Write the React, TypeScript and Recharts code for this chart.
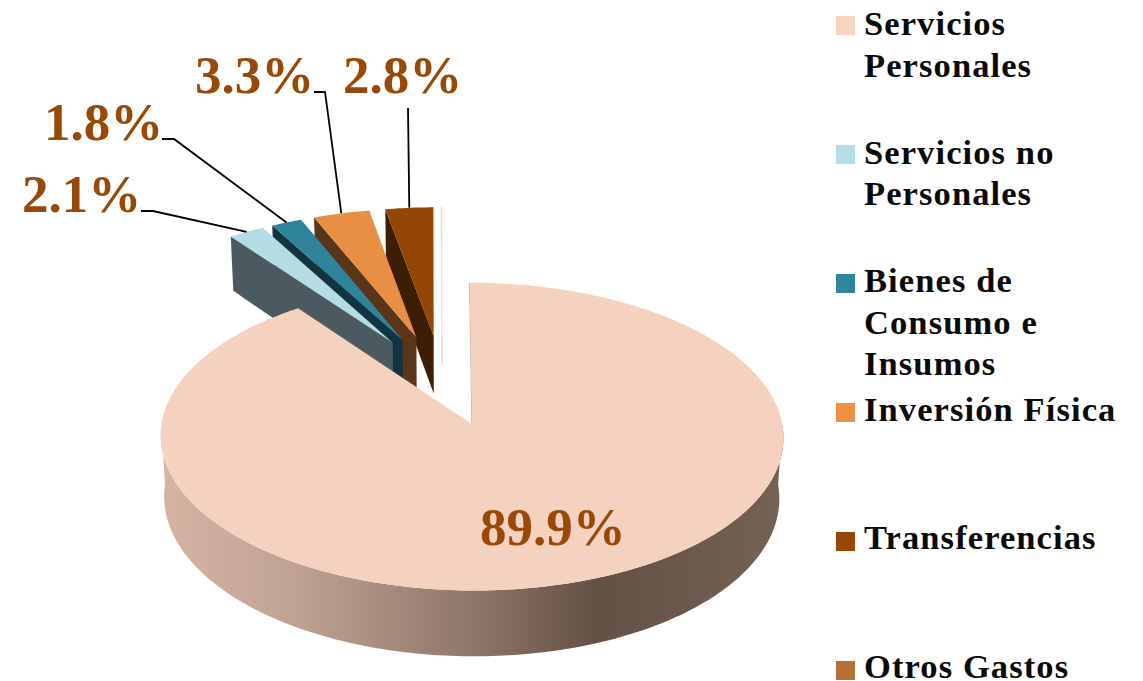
import React from "react";
import { PieChart, Pie, Legend } from "recharts";

// ---- data (legend order) ----
const CATEGORIES = [
  "Servicios Personales",
  "Servicios no Personales",
  "Bienes de Consumo e Insumos",
  "Inversión Física",
  "Transferencias",
  "Otros Gastos",
];
const VALUES = [89.9, 2.1, 1.8, 3.3, 2.8, 0.05];
const LEGEND_LINES = [
  ["Servicios", "Personales"],
  ["Servicios no", "Personales"],
  ["Bienes de", "Consumo e", "Insumos"],
  ["Inversión Física"],
  ["Transferencias"],
  ["Otros Gastos"],
];
const LEGEND_COLORS = ["#F9D3C2", "#B7DDE8", "#31859C", "#EE9143", "#974706", "#B66F33"];
const FACE_COLORS = ["#F5D1BF", "#B5DCE5", "#2F849C", "#E98F45", "#934606", "#F0E0D6"];
const WALL_COLORS = ["#7A6358", "#4B5A60", "#123440", "#5B351A", "#3E1E02", "#F0E0D6"];

// ---- 3D projection settings ----
const CX = 442;
const CY = 380;
const RADIUS = 303;
const Y_RATIO = 0.481;
const PERSPECTIVE = 0.08;
const EXPLODE = 0.31;
const DEPTH = 59;
const DEPTH_SHRINK = 0.988;

// leader-line and text placement of the percentage labels
const LABEL_LAYOUT: Record<string, { x: number; y: number; line: number[][] }> = {
  "Servicios Personales": { x: 480, y: 545, line: [] },
  "Servicios no Personales": { x: 22, y: 212, line: [[141, 211], [153, 211]] },
  "Bienes de Consumo e Insumos": { x: 44, y: 140, line: [[162, 139], [174, 139]] },
  "Inversión Física": { x: 195, y: 93, line: [[314, 92], [325, 92]] },
  Transferencias: { x: 343, y: 93, line: [[408, 108]] },
};

const rad = (d: number) => (d * Math.PI) / 180;

function project(cx: number, cy: number, R: number, u: number, v: number, down = 0) {
  const s = 1 / (1 + PERSPECTIVE * v);
  const k = down > 0 ? DEPTH_SHRINK : 1;
  return {
    x: cx + R * u * s * k,
    y: cy - R * Y_RATIO * v * s + down * s,
  };
}

const toPath = (pts: { x: number; y: number }[]) =>
  "M" + pts.map((p) => `${p.x.toFixed(2)},${p.y.toFixed(2)}`).join("L") + "Z";

function rimPoints(cx: number, cy: number, R: number, ox: number, oy: number, a0: number, a1: number, down = 0) {
  const n = Math.max(2, Math.ceil(Math.abs(a1 - a0)));
  const out = [];
  for (let i = 0; i <= n; i++) {
    const a = rad(a0 + ((a1 - a0) * i) / n);
    out.push(project(cx, cy, R, ox + Math.cos(a), oy + Math.sin(a), down));
  }
  return out;
}

function Slice3D(props: any) {
  const { cx, cy, outerRadius: R, startAngle, endAngle, payload } = props;
  const idx = CATEGORIES.indexOf(payload.name);
  const mid = rad((startAngle + endAngle) / 2);
  const ox = EXPLODE * Math.cos(mid);
  const oy = EXPLODE * Math.sin(mid);
  const apex = project(cx, cy, R, ox, oy);
  const apexLow = project(cx, cy, R, ox, oy, DEPTH);
  const rim = rimPoints(cx, cy, R, ox, oy, startAngle, endAngle);
  const face = toPath([apex, ...rim]);

  if (idx === 0) {
    // large slice: curved front wall with gradient
    const top = rimPoints(cx, cy, R, ox, oy, 180, 360);
    const low = rimPoints(cx, cy, R, ox, oy, 180, 360, DEPTH).reverse();
    const g0 = rimPoints(cx, cy, R, ox, oy, 90, 90)[0];
    return (
      <g>
        <defs>
          <linearGradient id="mainWall" x1="0" y1="0" x2="1" y2="0">
            <stop offset="0" stopColor="#D6B4A4" />
            <stop offset="0.22" stopColor="#BFA293" />
            <stop offset="0.5" stopColor="#8F766A" />
            <stop offset="0.7" stopColor="#645145" />
            <stop offset="1" stopColor="#756256" />
          </linearGradient>
        </defs>
        <path d={toPath([...top, ...low])} fill="url(#mainWall)" />
        <line x1={apex.x} y1={apex.y} x2={g0.x} y2={g0.y} stroke="#9C867A" strokeWidth={1} strokeOpacity={0.7} />
        <path d={face} fill={FACE_COLORS[idx]} />
      </g>
    );
  }

  if (idx === 5) {
    // hair-thin slice
    const tail = project(cx, cy, R, ox, oy, DEPTH / 2);
    return (
      <g>
        <path d={face} fill={FACE_COLORS[idx]} stroke={FACE_COLORS[idx]} strokeWidth={0.9} />
        <line x1={apex.x} y1={apex.y} x2={tail.x} y2={tail.y} stroke={FACE_COLORS[idx]} strokeWidth={1.6} />
      </g>
    );
  }

  // small slices: visible radial wall on the far (counter-clockwise) side
  const edge = rim[rim.length - 1];
  const edgeLow = rimPoints(cx, cy, R, ox, oy, endAngle, endAngle, DEPTH)[0];
  return (
    <g>
      <path d={toPath([apex, edge, edgeLow, apexLow])} fill={WALL_COLORS[idx]} />
      <path d={face} fill={FACE_COLORS[idx]} />
    </g>
  );
}

function SliceLabel(props: any) {
  const { cx, cy, outerRadius: R, midAngle, value, name, payload } = props;
  const key = name ?? payload?.name;
  const layout = LABEL_LAYOUT[key];
  if (!layout) return null;
  const m = rad(midAngle);
  const rimMid = project(cx, cy, R, (1 + EXPLODE) * Math.cos(m), (1 + EXPLODE) * Math.sin(m));
  const pts = layout.line.length ? [...layout.line, [rimMid.x, rimMid.y]] : [];
  return (
    <g>
      {pts.length > 0 && (
        <polyline points={pts.map((p) => p.join(",")).join(" ")} fill="none" stroke="#000" strokeWidth={1.8} />
      )}
      <text
        x={layout.x}
        y={layout.y}
        textAnchor="start"
        fill="#984807"
        fontFamily="'Liberation Serif', serif"
        fontWeight={700}
        fontSize={53}
        letterSpacing={0}
      >
        {`${value.toFixed(1)}%`}
      </text>
    </g>
  );
}

function LegendBlock() {
  const firstCenter = 25;
  const step = 129;
  const textStep = 128.6;
  return (
    <div style={{ position: "absolute", left: 0, top: 0, width: 1143, height: 681, pointerEvents: "none" }}>
      {CATEGORIES.map((c, i) => (
        <React.Fragment key={c}>
          <div
            style={{
              position: "absolute",
              left: 836,
              top: firstCenter + step * i - 9.5,
              width: 19,
              height: 19,
              background: LEGEND_COLORS[i],
            }}
          />
          <div
            style={{
              position: "absolute",
              left: 864,
              top: firstCenter + textStep * i - 22,
              fontFamily: "'Liberation Serif', serif",
              fontWeight: 700,
              fontSize: 34.5,
              lineHeight: "41.5px",
              letterSpacing: 1.1,
              color: "#0a0a0a",
              whiteSpace: "nowrap",
              textAlign: "left",
            }}
          >
            {LEGEND_LINES[i].map((l) => (
              <div key={l}>{l}</div>
            ))}
          </div>
        </React.Fragment>
      ))}
    </div>
  );
}

// draw order: small slices first so the big one sits on top
const pieData = CATEGORIES.map((name, i) => ({ name, value: VALUES[i] })).reverse();

export default function App() {
  return (
    <div style={{ position: "absolute", left: 0, top: 0, width: 1143, height: 681, overflow: "hidden", background: "#fff" }}>
      <PieChart width={1143} height={681} margin={{ top: 0, right: 0, bottom: 0, left: 0 }}>
        <Pie
          data={pieData}
          dataKey="value"
          nameKey="name"
          cx={CX}
          cy={CY}
          innerRadius={0}
          outerRadius={RADIUS}
          startAngle={90}
          endAngle={450}
          paddingAngle={0}
          stroke="none"
          isAnimationActive={false}
          shape={Slice3D}
          label={SliceLabel}
          labelLine={false}
        />
        <Legend
          content={() => <LegendBlock />}
          wrapperStyle={{ position: "absolute", left: 0, top: 0, width: 1143, height: 681 }}
        />
      </PieChart>
    </div>
  );
}
